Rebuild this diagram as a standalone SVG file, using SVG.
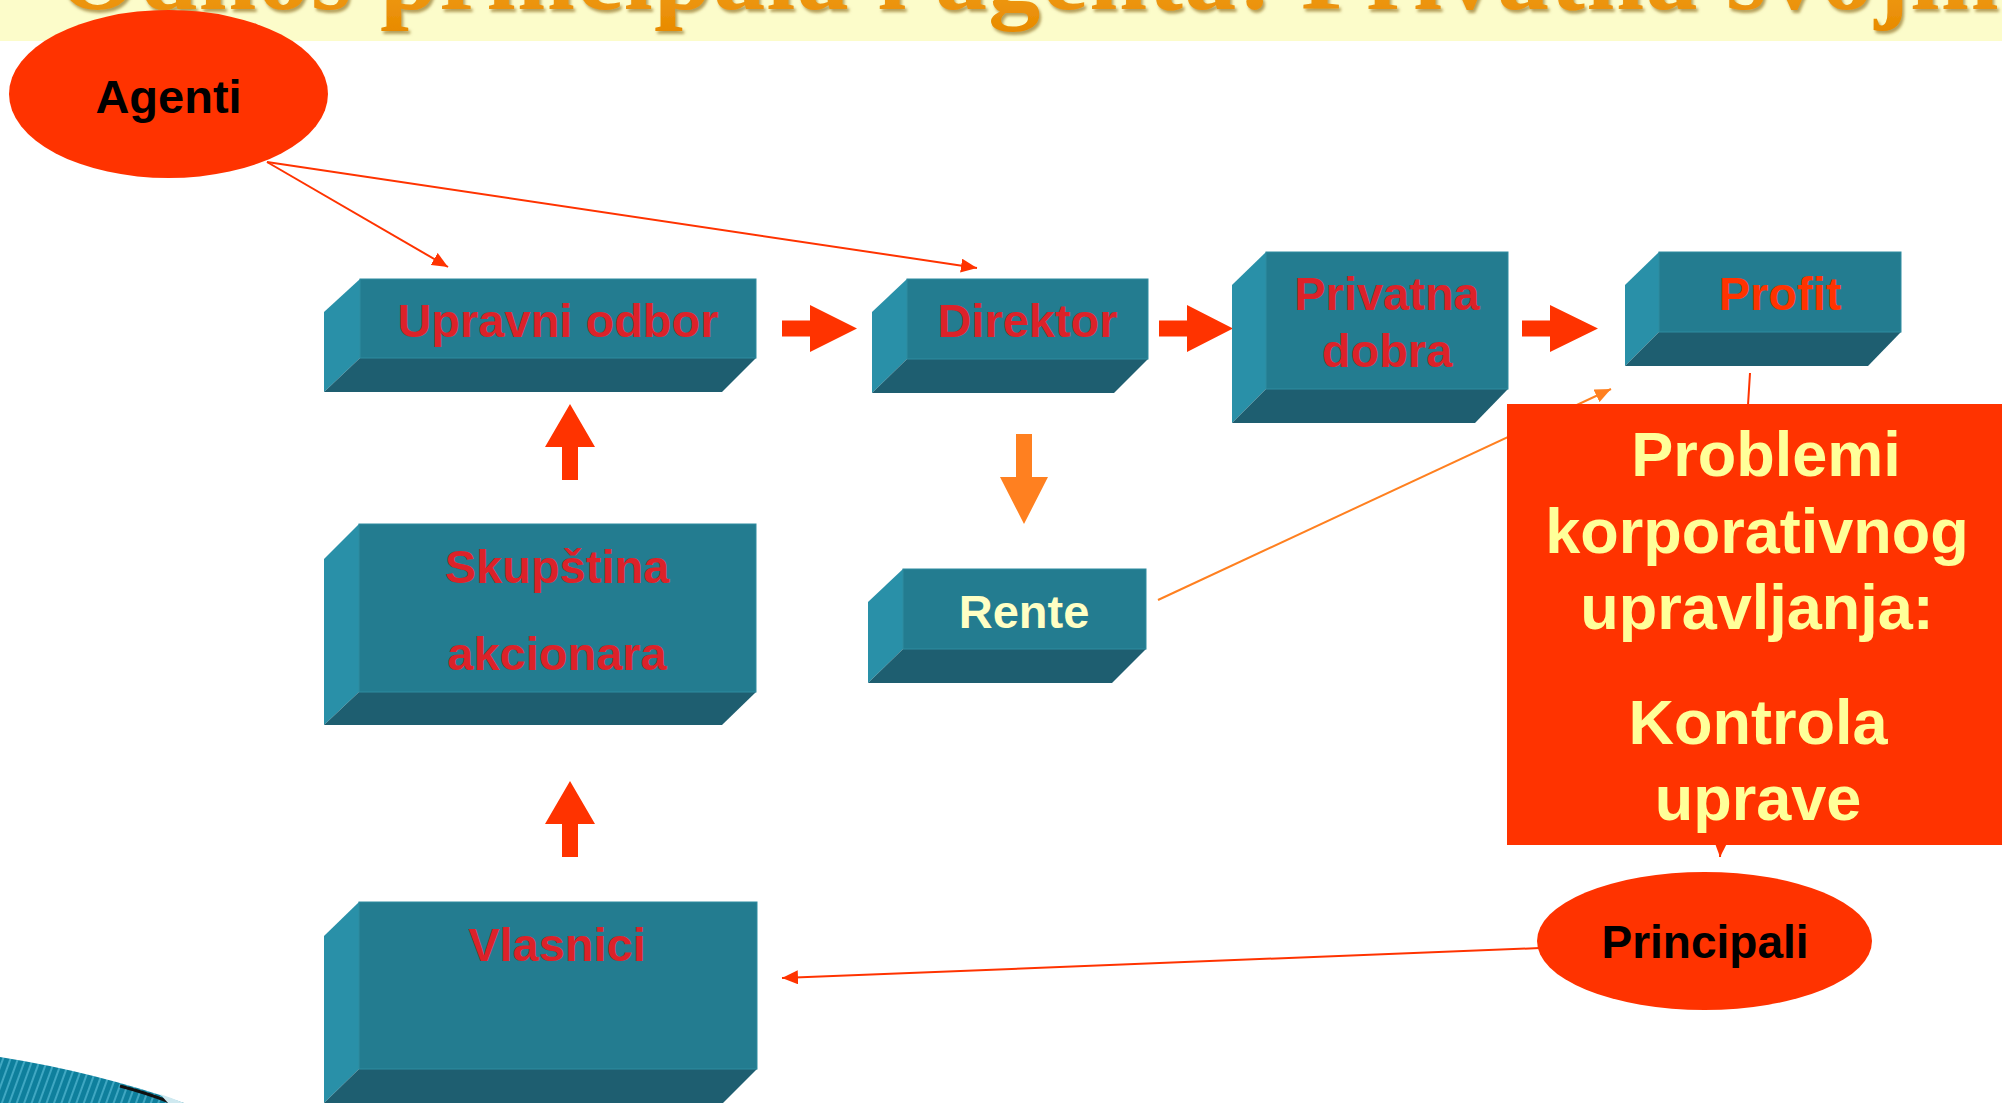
<svg xmlns="http://www.w3.org/2000/svg" width="2002" height="1103" viewBox="0 0 2002 1103">
  <style>
    .front { fill: #237C90; stroke: #2F8CA0; stroke-width: 1; }
    .side { fill: #2990A8; }
    .bottom { fill: #1E5E70; }
    .lbl { font-family: "Liberation Sans", Arial, sans-serif; font-weight: bold; font-size: 47px; text-anchor: middle; fill: #DC2229; }
    .oval { fill: #FF3300; }
    .oval-lbl { font-family: "Liberation Sans", Arial, sans-serif; font-weight: bold; text-anchor: middle; fill: #000000; }
    .callout-lbl { font-family: "Liberation Sans", Arial, sans-serif; font-weight: bold; font-size: 63px; text-anchor: middle; fill: #FFFF99; }
    .thin-red { stroke: #FF3300; stroke-width: 2; fill: none; }
    .thin-orange { stroke: #FF8020; stroke-width: 2; fill: none; }
    .block-red { fill: #FF3300; }
    .block-orange { fill: #FF8020; }
  </style>
  <defs>
    <marker id="head-red" viewBox="0 0 16 14" refX="16" refY="7" markerWidth="16" markerHeight="14" markerUnits="userSpaceOnUse" orient="auto">
      <path d="M0,0 L16,7 L0,14 Z" fill="#FF3300"/>
    </marker>
    <marker id="head-orange" viewBox="0 0 16 14" refX="16" refY="7" markerWidth="16" markerHeight="14" markerUnits="userSpaceOnUse" orient="auto">
      <path d="M0,0 L16,7 L0,14 Z" fill="#FF8020"/>
    </marker>
    <filter id="title-shadow" x="-5%" y="-50%" width="110%" height="200%">
      <feDropShadow dx="2" dy="3" stdDeviation="1.5" flood-color="#7A5200" flood-opacity="0.55"/>
    </filter>
    <linearGradient id="title-fill" x1="0" y1="0" x2="0" y2="1">
      <stop offset="0" stop-color="#F9B233"/>
      <stop offset="1" stop-color="#E88A00"/>
    </linearGradient>
    <pattern id="swoosh-stripes" width="7" height="40" patternUnits="userSpaceOnUse" patternTransform="rotate(20)">
      <rect width="7" height="40" fill="#0E7F9C"/>
      <rect width="2" height="40" fill="#3FA7C2"/>
    </pattern>
  </defs>

  <!-- title band -->
  <rect x="0" y="0" width="2002" height="41" fill="#FCFCCA"/>
  <text x="57" y="9" font-family="'Liberation Serif', 'Times New Roman', serif" font-weight="bold" font-size="104" fill="url(#title-fill)" filter="url(#title-shadow)" textLength="1995" lengthAdjust="spacing">Odnos principala i agenta: Privatna svojina</text>

  <!-- corner swoosh -->
  <g id="corner-swoosh">
    <path d="M0,1057 Q95,1072 184,1103 L0,1103 Z" fill="url(#swoosh-stripes)"/>
    <path d="M120,1086 Q150,1094 172,1103" stroke="#111" stroke-width="3" fill="none"/>
    <path d="M160,1094 Q172,1098 184,1103 L168,1103 Z" fill="#CFE9F0"/>
  </g>

  <!-- connectors -->
  <g id="connectors">
    <line class="thin-red" x1="267" y1="162" x2="448" y2="267" marker-end="url(#head-red)"/>
    <line class="thin-red" x1="267" y1="162" x2="977" y2="268" marker-end="url(#head-red)"/>
    <line class="thin-orange" x1="1158" y1="600" x2="1611" y2="389" marker-end="url(#head-orange)"/>
    <line class="thin-red" x1="1750" y1="373" x2="1720" y2="857" marker-end="url(#head-red)"/>
    <line class="thin-red" x1="1540" y1="948" x2="782" y2="978" marker-end="url(#head-red)"/>

    <path class="block-red" d="M782,320.5 H810 V305 L857,328.5 L810,352 V336.5 H782 Z"/>
    <path class="block-red" d="M1159,320.5 H1187 V305 L1233,328.5 L1187,352 V336.5 H1159 Z"/>
    <path class="block-red" d="M1522,320.5 H1550 V305 L1598,328.5 L1550,352 V336.5 H1522 Z"/>
    <path class="block-red" d="M570,404 L595,447 H578 V480 H562 V447 H545 Z"/>
    <path class="block-red" d="M570,781 L595,824 H578 V857 H562 V824 H545 Z"/>
    <path class="block-orange" d="M1016,434 H1032 V477 H1048 L1024,524 L1000,477 H1016 Z"/>
  </g>

  <!-- nodes -->
  <g id="agenti">
    <ellipse class="oval" cx="168.5" cy="94" rx="159.5" ry="84"/>
    <text class="oval-lbl" x="168.5" y="113" font-size="47">Agenti</text>
  </g>

  <g id="upravni-odbor">
    <polygon class="side" points="324,312 360,279 360,358 324,392"/>
    <polygon class="bottom" points="360,358 756,358 722,392 324,392"/>
    <rect class="front" x="360" y="279" width="396" height="79"/>
    <text class="lbl" x="558" y="337">Upravni odbor</text>
  </g>

  <g id="direktor">
    <polygon class="side" points="872,312 907,279 907,359 872,393"/>
    <polygon class="bottom" points="907,359 1148,359 1114,393 872,393"/>
    <rect class="front" x="907" y="279" width="241" height="80"/>
    <text class="lbl" x="1027.5" y="337">Direktor</text>
  </g>

  <g id="privatna-dobra">
    <polygon class="side" points="1232,285 1266,252 1266,389 1232,423"/>
    <polygon class="bottom" points="1266,389 1508,389 1475,423 1232,423"/>
    <rect class="front" x="1266" y="252" width="242" height="137"/>
    <text class="lbl" x="1387" y="310">Privatna</text>
    <text class="lbl" x="1387" y="367">dobra</text>
  </g>

  <g id="profit">
    <polygon class="side" points="1625,285 1659,252 1659,332 1625,366"/>
    <polygon class="bottom" points="1659,332 1901,332 1868,366 1625,366"/>
    <rect class="front" x="1659" y="252" width="242" height="80"/>
    <text class="lbl" x="1780" y="310" fill="#FF3300" style="fill:#FF3300">Profit</text>
  </g>

  <g id="skupstina-akcionara">
    <polygon class="side" points="324,559 359,524 359,692 324,725"/>
    <polygon class="bottom" points="359,692 756,692 722,725 324,725"/>
    <rect class="front" x="359" y="524" width="397" height="168"/>
    <text class="lbl" x="557" y="583">Skupština</text>
    <text class="lbl" x="557" y="670">akcionara</text>
  </g>

  <g id="rente">
    <polygon class="side" points="868,602 903,569 903,649 868,683"/>
    <polygon class="bottom" points="903,649 1146,649 1112,683 868,683"/>
    <rect class="front" x="903" y="569" width="243" height="80"/>
    <text class="lbl" x="1024" y="628" style="fill:#FFFFC4">Rente</text>
  </g>

  <g id="vlasnici">
    <polygon class="side" points="324,936 359,902 359,1069 324,1103"/>
    <polygon class="bottom" points="359,1069 757,1069 723,1103 324,1103"/>
    <rect class="front" x="359" y="902" width="398" height="167"/>
    <text class="lbl" x="557" y="961">Vlasnici</text>
  </g>

  <g id="problemi-callout">
    <rect x="1507" y="404" width="500" height="441" fill="#FF3300"/>
    <text class="callout-lbl" x="1766" y="476">Problemi</text>
    <text class="callout-lbl" x="1757" y="553">korporativnog</text>
    <text class="callout-lbl" x="1757" y="629">upravljanja:</text>
    <text class="callout-lbl" x="1758" y="744">Kontrola</text>
    <text class="callout-lbl" x="1758" y="820">uprave</text>
  </g>

  <g id="principali">
    <ellipse class="oval" cx="1704.5" cy="941" rx="167.5" ry="69"/>
    <text class="oval-lbl" x="1705" y="958" font-size="46">Principali</text>
  </g>
</svg>
